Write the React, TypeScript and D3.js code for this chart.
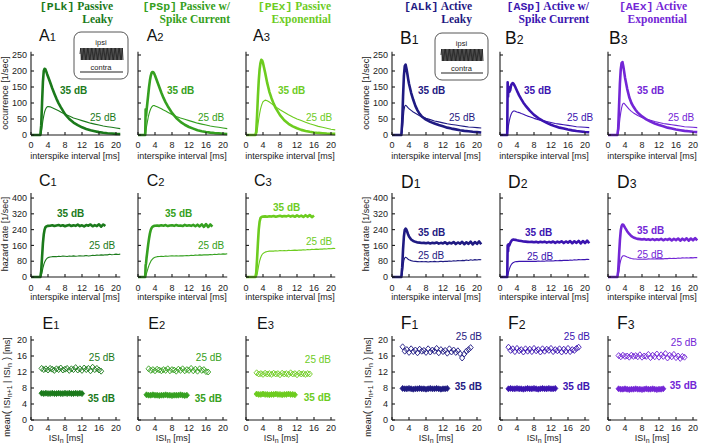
import React from 'react';
import * as d3 from 'd3';

const N = null;
const MODELS = ['PLk', 'PSp', 'PEx', 'ALk', 'ASp', 'AEx'];
const COLORS = ['#1b7a1b', '#35a020', '#6dcc1f', '#1f1a82', '#3b14b0', '#7326d6'];
const HEAD_TAGS = ['[PLk]', '[PSp]', '[PEx]', '[ALk]', '[ASp]', '[AEx]'];
const HEAD_L1 = [' Passive', ' Passive w/', ' Passive', ' Active', ' Active w/', ' Active'];
const HEAD_L2 = ['Leaky', 'Spike Current', 'Exponential', 'Leaky', 'Spike Current', 'Exponential'];
const LEVELS = ['35 dB', '25 dB'];
const X_TICKS = [0, 4, 8, 12, 16, 20];
const OCC_TICKS = [0, 50, 100, 150, 200, 250];
const HAZ_TICKS = [0, 80, 160, 240, 320, 400];
const SCAT_TICKS = [0, 4, 8, 12, 16, 20];

// occurrence (ISI histogram) grid, ms
const OCC_X = [0, 1.7, 1.8, 1.9, 2.0, 2.2, 2.4, 2.6, 2.8, 3.0, 3.2, 3.4, 3.6, 3.8, 4.0,
  4.5, 5, 5.5, 6, 6.5, 7, 8, 9, 10, 11, 12, 13, 14, 15, 16, 17, 18, 19, 20, 21];
const OCC35_PLK = [0, 0, 0, 0, 0, 0, 30, 100, 165, 200, 207, 205, 198, 190, 183,
  165, 146, 129, 113, 99, 87, 65, 50, 39, 31, 24, 19, 15, 12, 9, 7, 5.5, 4.5, 3.5, 3];
const OCC25_PLK = [0, 0, 0, 0, 0, 0, 5, 25, 45, 60, 72, 80, 85, 88, 89,
  88, 85, 82, 79, 76, 72, 65, 59, 53, 49, 45, 41, 37, 34, 31, 28, 26, 24, 22, 20];
const OCC35_PSP = [0, 0, 80, 60, 75, 100, 125, 150, 170, 185, 194, 197, 196, 192, 186,
  168, 150, 132, 116, 102, 90, 69, 53, 41, 32, 25, 20, 15, 12, 9.5, 7.5, 6, 5, 4, 3];
const OCC25_PSP = [0, 0, 5, 15, 25, 40, 55, 66, 75, 82, 87, 90, 92, 92, 91,
  88, 85, 82, 78, 75, 71, 64, 58, 53, 49, 45, 41, 37, 34, 31, 28, 26, 24, 22, 20];
const OCC35_PEX = [0, 0, 0, 0, 0, 0, 10, 60, 120, 170, 205, 225, 235, 233, 225,
  195, 162, 135, 115, 98, 84, 62, 46, 35, 27, 21, 16, 12.5, 10, 8, 6.5, 5.5, 4.5, 4, 3.5];
const OCC25_PEX = [0, 0, 0, 0, 0, 0, 0, 10, 30, 50, 66, 80, 90, 98, 104,
  109, 107, 103, 98, 93, 88, 79, 71, 63, 56, 50, 45, 40, 35, 31, 27, 24, 21, 18, 16];
const OCC35_ALK = [0, 0, 0, 0, 0, 0, 40, 120, 185, 215, 220, 208, 192, 175, 160,
  132, 110, 91, 77, 66, 58, 48, 41, 36, 31, 27, 23, 20, 17.5, 15, 13, 11.5, 10, 9, 8];
const OCC25_ALK = [0, 0, 0, 0, 0, 0, 10, 45, 75, 90, 93, 91, 88, 85, 82,
  77, 72, 68, 64, 60, 57, 52, 48, 44, 41, 38, 35, 33, 31, 29, 27, 25, 24, 23, 22];
const OCC35_ASP = [0, 0, 165, 120, 150, 135, 140, 155, 160, 162, 160, 155, 150, 144, 138,
  124, 112, 101, 92, 84, 76, 63, 53, 45, 38, 32, 27, 23, 20, 17, 14.5, 12.5, 11, 9.5, 8.5];
const OCC25_ASP = [0, 0, 10, 20, 30, 45, 56, 64, 70, 73, 75, 75, 74, 73, 72,
  70, 67, 65, 62, 59, 57, 52, 48, 45, 42, 39, 36, 34, 32, 30, 28, 26, 25, 24, 23];
const OCC35_AEX = [0, 0, 0, 0, 0, 0, 20, 90, 160, 205, 225, 228, 215, 198, 180,
  145, 118, 100, 88, 78, 70, 58, 49, 42, 36, 31, 27, 23, 20, 17, 15, 13, 11.5, 10, 9];
const OCC25_AEX = [0, 0, 0, 0, 0, 0, 5, 25, 50, 70, 85, 95, 99, 99, 96,
  88, 80, 74, 69, 65, 61, 55, 50, 46, 42, 39, 36, 34, 32, 30, 28, 26, 25, 24, 23];

// hazard rate grid, ms
const HAZ_X = [0, 1.7, 1.8, 1.9, 2.0, 2.2, 2.4, 2.6, 2.8, 3.0, 3.2, 3.4, 3.6, 3.8, 4.0,
  4.5, 5, 5.5, 6, 6.5, 7, 7.5, 8, 8.5, 9, 9.5, 10, 10.5, 11, 11.5, 12, 12.5, 13, 13.5, 14,
  14.5, 15, 15.5, 16, 16.5, 17, 17.5, 18, 18.5, 19, 19.5, 20, 20.5, 21];
const HAZ35_PLK = [0, 0, 0, 0, 0, 0, 30, 100, 170, 215, 240, 252, 256, 258, 259,
  260, 262, 258, 261, 263, 259, 262, 257, 261, 264, 258, 262, 259, 265, 258, 262, 256, 263, 260, 266,
  257, 263, 258, 267, 255, 266, 258, N, N, N, N, N, N, N];
const HAZ25_PLK = [0, 0, 0, 0, 0, 0, 5, 25, 45, 62, 75, 84, 90, 95, 98,
  101, 103, 104, 103, 105, 104, 106, 105, 104, 106, 105, 107, 105, 106, 108, 106, 107, 109, 106, 108,
  110, 109, 111, 110, 112, 111, 113, 112, 115, 113, 114, 116, 114, 116];
const HAZ35_PSP = [0, 0, 60, 70, 95, 130, 165, 195, 220, 238, 248, 254, 257, 259, 260,
  261, 259, 262, 260, 263, 258, 261, 262, 259, 263, 260, 261, 258, 264, 260, 262, 259, 264, 257, 265,
  256, 267, 254, 268, 253, 266, 255, N, N, N, N, N, N, N];
const HAZ25_PSP = [0, 0, 5, 10, 18, 32, 47, 60, 70, 79, 86, 91, 95, 98, 100,
  103, 104, 105, 104, 106, 105, 106, 107, 106, 107, 106, 108, 107, 108, 109, 108, 110, 109, 111, 110,
  112, 111, 112, 113, 112, 114, 113, 115, 114, 116, 115, 117, 116, 118];
const HAZ35_PEX = [0, 0, 0, 0, 0, 0, 20, 90, 170, 240, 280, 298, 303, 305, 306,
  307, 305, 308, 306, 309, 305, 308, 310, 306, 309, 307, 311, 306, 310, 305, 312, 306, 311, 304, 313,
  305, 314, 303, 312, N, N, N, N, N, N, N, N, N, N];
const HAZ25_PEX = [0, 0, 0, 0, 0, 0, 0, 10, 35, 60, 80, 95, 106, 114, 119,
  126, 129, 131, 132, 131, 133, 132, 134, 133, 134, 133, 135, 134, 135, 136, 135, 137, 136, 138, 137,
  139, 138, 140, 139, 141, 140, 142, 141, 143, 142, 144, 143, 145, 144];
const HAZ35_ALK = [0, 0, 0, 0, 0, 0, 50, 140, 205, 238, 245, 240, 228, 215, 205,
  190, 182, 178, 175, 174, 172, 173, 171, 174, 170, 173, 171, 175, 169, 173, 170, 176, 168, 174, 170,
  177, 167, 175, 169, 178, 166, 176, 168, 179, 165, 177, 168, 180, 166];
const HAZ25_ALK = [0, 0, 0, 0, 0, 0, 15, 55, 85, 97, 100, 98, 94, 90, 87,
  83, 80, 79, 78, 77, 78, 77, 78, 76, 78, 77, 79, 77, 78, 80, 78, 80, 79, 81, 80,
  82, 81, 83, 82, 84, 83, 86, 84, 87, 85, 88, 86, 89, 87];
const HAZ35_ASP = [0, 0, 160, 130, 165, 160, 172, 180, 186, 189, 190, 189, 188, 187, 186,
  184, 182, 180, 179, 178, 177, 178, 176, 178, 175, 178, 176, 179, 174, 178, 175, 180, 173, 179, 175,
  181, 172, 180, 174, 182, 171, 181, 173, 183, 170, 182, 172, 184, 171];
const HAZ25_ASP = [0, 0, 8, 15, 25, 40, 52, 61, 67, 71, 74, 76, 77, 78, 78,
  79, 80, 79, 80, 79, 80, 79, 80, 79, 81, 80, 81, 80, 82, 81, 82, 81, 83, 82, 84,
  83, 84, 85, 84, 86, 85, 87, 86, 88, 87, 89, 88, 90, 89];
const HAZ35_AEX = [0, 0, 0, 0, 0, 0, 30, 110, 185, 235, 258, 266, 265, 258, 250,
  232, 218, 207, 200, 196, 193, 192, 190, 192, 189, 191, 188, 192, 187, 191, 188, 193, 186, 192, 188,
  194, 185, 193, 187, 195, 184, 194, 186, 196, 184, 195, 186, 197, 185];
const HAZ25_AEX = [0, 0, 0, 0, 0, 0, 10, 35, 65, 85, 98, 105, 108, 108, 106,
  101, 97, 94, 92, 91, 90, 91, 90, 91, 90, 92, 91, 92, 91, 93, 92, 93, 92, 94, 93,
  95, 94, 95, 94, 96, 95, 97, 96, 97, 96, 98, 97, 99, 98];

// mean(ISI n+1 | ISI n), ms
const SCAT_X = [2.0, 2.5, 3.0, 3.5, 4.0, 4.5, 5.0, 5.5, 6.0, 6.5, 7.0, 7.5, 8.0, 8.5, 9.0, 9.5, 10.0,
  10.5, 11.0, 11.5, 12.0, 12.5, 13.0, 13.5, 14.0, 14.5, 15.0, 15.5, 16.0, 16.5, 17.0, 17.5, 18.0, 18.5];
const SC35_PLK = [N, 6.7, 6.6, 6.7, 6.6, 6.6, 6.7, 6.6, 6.6, 6.7, 6.6, 6.6, 6.7, 6.6, 6.7, 6.6, 6.6,
  6.7, 6.6, 6.7, 6.6, N, N, N, N, N, N, N, N, N, N, N, N, N];
const SC25_PLK = [N, 12.9, 12.6, 12.8, 12.5, 12.9, 12.7, 12.4, 12.8, 12.6, 13.0, 12.5, 12.7, 12.9, 12.4,
  12.8, 12.6, 13.1, 12.5, 12.8, 12.4, 13.0, 12.6, 12.9, 12.3, 13.2, 12.6, 12.9, 12.5, 12.2, N, N, N, N];
const SC35_PSP = [6.3, 6.2, 6.2, 6.3, 6.2, 6.2, 6.1, 6.2, 6.2, 6.3, 6.2, 6.2, 6.1, 6.2, 6.2, 6.2, 6.3,
  6.2, 6.1, 6.2, N, N, N, N, N, N, N, N, N, N, N, N, N, N];
const SC25_PSP = [N, 12.8, 12.4, 12.6, 12.3, 12.7, 12.5, 12.3, 12.6, 12.4, 12.8, 12.3, 12.6, 12.5, 12.2,
  12.7, 12.4, 12.8, 12.3, 12.6, 12.4, 12.9, 12.3, 12.7, 12.2, 12.8, 12.4, 12.6, 12.1, 12.0, N, N, N, N];
const SC35_PEX = [N, 6.5, 6.4, 6.4, 6.5, 6.4, 6.4, 6.3, 6.4, 6.4, 6.5, 6.4, 6.4, 6.3, 6.4, 6.4, 6.5,
  6.4, 6.4, 6.3, N, N, N, N, N, N, N, N, N, N, N, N, N, N];
const SC25_PEX = [N, 11.8, 11.5, 11.6, 11.4, 11.7, 11.5, 11.6, 11.4, 11.7, 11.5, 11.6, 11.3, 11.7, 11.5,
  11.6, 11.4, 11.8, 11.5, 11.6, 11.3, 11.7, 11.5, 11.6, 11.4, 11.6, 11.5, N, N, N, N, N, N, N];
const SC35_ALK = [N, 7.9, 7.8, 7.8, 7.9, 7.8, 7.7, 7.8, 7.8, 7.9, 7.8, 7.8, 7.7, 7.8, 7.9, 7.8, 7.8,
  7.9, 7.8, 7.7, 7.8, 7.8, 7.9, N, N, N, N, N, N, N, N, N, N, N];
const SC25_ALK = [N, 18.3, 17.2, 17.6, 16.9, 17.8, 17.1, 17.5, 16.8, 17.7, 17.2, 17.4, 16.9, 17.8, 17.0,
  17.5, 17.2, 17.9, 16.8, 17.6, 17.1, 17.4, 16.7, 17.8, 17.0, 17.5, 16.9, 17.3, 16.6, 15.5, 16.5, 17.2, 17.6, 18.1];
const SC35_ASP = [7.8, 7.9, 7.8, 7.8, 7.9, 7.8, 7.8, 7.7, 7.8, 7.9, 7.8, 7.8, 7.9, 7.8, 7.7, 7.8, 7.9,
  7.8, 7.8, 7.9, 7.8, 7.8, 7.9, N, N, N, N, N, N, N, N, N, N, N];
const SC25_ASP = [18.2, 17.4, 17.8, 17.1, 17.9, 17.3, 17.6, 17.0, 17.8, 17.2, 17.7, 17.1, 17.9, 17.3, 17.6,
  17.0, 17.8, 17.2, 17.7, 17.4, 17.9, 17.1, 17.6, 17.3, 17.8, 17.0, 17.7, 17.2, 17.9, 17.1, 17.6, 17.4, 17.9, 18.2];
const SC35_AEX = [N, 7.8, 7.7, 7.7, 7.8, 7.7, 7.6, 7.7, 7.7, 7.8, 7.7, 7.7, 7.6, 7.7, 7.8, 7.7, 7.7,
  7.8, 7.7, 7.6, 7.7, 7.7, 7.8, N, N, N, N, N, N, N, N, N, N, N];
const SC25_AEX = [N, 16.1, 15.8, 16.2, 15.9, 16.0, 15.7, 16.2, 15.9, 16.1, 15.8, 16.3, 15.7, 16.0, 15.9,
  16.4, 15.6, 16.2, 15.8, 16.5, 15.7, 16.3, 15.9, 16.6, 15.5, 16.2, 15.8, 16.4, 15.6, 16.0, 15.4, 15.9, 15.7, N];

const OCC35 = [OCC35_PLK, OCC35_PSP, OCC35_PEX, OCC35_ALK, OCC35_ASP, OCC35_AEX];
const OCC25 = [OCC25_PLK, OCC25_PSP, OCC25_PEX, OCC25_ALK, OCC25_ASP, OCC25_AEX];
const HAZ35 = [HAZ35_PLK, HAZ35_PSP, HAZ35_PEX, HAZ35_ALK, HAZ35_ASP, HAZ35_AEX];
const HAZ25 = [HAZ25_PLK, HAZ25_PSP, HAZ25_PEX, HAZ25_ALK, HAZ25_ASP, HAZ25_AEX];
const SC35 = [SC35_PLK, SC35_PSP, SC35_PEX, SC35_ALK, SC35_ASP, SC35_AEX];
const SC25 = [SC25_PLK, SC25_PSP, SC25_PEX, SC25_ALK, SC25_ASP, SC25_AEX];

// ---------- layout ----------
const SANS = "'Liberation Sans', Arial, Helvetica, sans-serif";
const SERIF = "'Liberation Serif', 'Times New Roman', serif";
const MONO = "'Liberation Mono', 'Courier New', monospace";
const AX = '#1a1a1a';
const COL_X0 = [31, 138, 246, 392, 500, 608];
const HEAD_X = [113, 230, 331, 472, 589, 687];
const ROWS = [
  { zero: 135, top: 51.8, ymax: 260, ticks: OCC_TICKS, letters: ['A', 'B'], letterY: [41, 44],
    tickLabY: 148, titleY: 158.5, yTitle: 'occurrence [1/sec]', yTitleC: 93 },
  { zero: 277, top: 193.1, ymax: 425, ticks: HAZ_TICKS, letters: ['C', 'D'], letterY: [186, 188],
    tickLabY: 290.5, titleY: 300, yTitle: 'hazard rate [1/sec]', yTitleC: 234 },
  { zero: 420, top: 336, ymax: 21, ticks: SCAT_TICKS, letters: ['E', 'F'], letterY: [329, 329],
    tickLabY: 431, titleY: 440.5, yTitle: '', yTitleC: 387 },
];
const LETTER_DX = [[8, 8.7, 7, 8, 5, 1], [8, 8.7, 8, 9, 8, 9], [11.5, 10.3, 11, 8.7, 8, 9]];
const OCC_LAB = { dx35: [29, 29, 32, 26, 24, 29], y35: [90, 90, 90, 90, 90, 90],
  dx25: [59, 60, 60, 57, 67, 60], y25: [117, 117, 117, 117, 117, 117] };
const HAZ_LAB = { dx35: [26, 27, 27, 26, 25, 29], y35: [213, 213, 207, 232.7, 232, 230.7],
  dx25: [58, 60, 60, 26, 27, 29], y25: [245, 245, 241, 255.7, 256, 254] };
const SC_LAB = { right: [84, 84, 85, 90, 90, 89], y25: [357, 357, 359, 336, 336, 342], y35: [398, 398, 397, 386.7, 386.7, 385] };
const INSETS = [{ x: 74, y: 32, w: 54, h: 47 }, { x: 435, y: 33, w: 53, h: 47 }];
const DIAMOND = 'M0,-3L2.6,0L0,3L-2.6,0Z';

function Panel({ ci, ri }: { ci: number; ri: number }) {
  const x0 = COL_X0[ci];
  const row = ROWS[ri];
  const color = COLORS[ci];
  const xs = d3.scaleLinear().domain([0, 21]).range([x0, x0 + 89.25]);
  const ys = d3.scaleLinear().domain([0, row.ymax]).range([row.zero, row.top]);
  const showY = ci === 0 || ci === 3;
  const grp = ci < 3 ? 0 : 1;
  const lineFor = (X: number[]) =>
    d3.line<number | null>().defined((d) => d != null).x((_, i) => xs(X[i])).y((d) => ys(d as number));

  let marks: React.ReactNode = null;
  let labels: React.ReactNode = null;
  if (ri === 0 || ri === 1) {
    const X = ri === 0 ? OCC_X : HAZ_X;
    const s35 = ri === 0 ? OCC35[ci] : HAZ35[ci];
    const s25 = ri === 0 ? OCC25[ci] : HAZ25[ci];
    const L = ri === 0 ? OCC_LAB : HAZ_LAB;
    const ln = lineFor(X);
    marks = (
      <g fill="none" stroke={color} strokeLinejoin="round">
        <path d={ln(s25) || ''} strokeWidth={1.1} />
        <path d={ln(s35) || ''} strokeWidth={2.6} />
      </g>
    );
    labels = (
      <g fill={color} fontSize={10}>
        <text x={x0 + L.dx35[ci]} y={L.y35[ci] + 3.5} fontWeight="bold">{LEVELS[0]}</text>
        <text x={x0 + L.dx25[ci]} y={L.y25[ci] + 3.5}>{LEVELS[1]}</text>
      </g>
    );
  } else {
    const s35 = SC35[ci];
    const s25 = SC25[ci];
    marks = (
      <g stroke={color}>
        {SCAT_X.map((x, i) =>
          s25[i] == null ? null : (
            <path key={'a' + i} d={DIAMOND} transform={`translate(${xs(x)},${ys(s25[i] as number)})`} fill="none" strokeWidth={0.9} />
          )
        )}
        {SCAT_X.map((x, i) =>
          s35[i] == null ? null : (
            <path key={'b' + i} d={DIAMOND} transform={`translate(${xs(x)},${ys(s35[i] as number)})`} fill={color} strokeWidth={0.8} />
          )
        )}
      </g>
    );
    labels = (
      <g fill={color} fontSize={10} textAnchor="end">
        <text x={x0 + SC_LAB.right[ci]} y={SC_LAB.y25[ci] + 3.5}>{LEVELS[1]}</text>
        <text x={x0 + SC_LAB.right[ci]} y={SC_LAB.y35[ci] + 3.5} fontWeight="bold">{LEVELS[0]}</text>
      </g>
    );
  }

  const letter = row.letters[grp];
  const sub = String((ci % 3) + 1);
  const big = grp === 0 ? 16 : 17.5;
  const yTitleX = ci === 0 ? 8 : 369;

  return (
    <g>
      <text x={x0 + LETTER_DX[ri][ci]} y={row.letterY[grp]} fontSize={big} fill="#111">
        {letter}
        <tspan fontSize={big * 0.7}>{sub}</tspan>
      </text>
      {marks}
      <g stroke={AX} strokeWidth={1.1} fill="none">
        <line x1={x0} x2={xs(21)} y1={row.zero} y2={row.zero} />
        <line x1={x0} x2={x0} y1={row.zero} y2={row.top} />
        {X_TICKS.map((t) => (
          <line key={'xt' + t} x1={xs(t)} x2={xs(t)} y1={row.zero} y2={row.zero - 3} />
        ))}
        {row.ticks.map((t) => (
          <line key={'yt' + t} x1={x0} x2={x0 + 3} y1={ys(t)} y2={ys(t)} />
        ))}
      </g>
      <g fontSize={9} fill="#222" textAnchor="middle">
        {X_TICKS.map((t) => (
          <text key={'xl' + t} x={xs(t)} y={row.tickLabY}>{t}</text>
        ))}
        {ri < 2 ? (
          <text x={x0 + 44} y={row.titleY}>interspike interval [ms]</text>
        ) : (
          <text x={x0 + (grp === 0 ? 35 : 44)} y={row.titleY}>
            ISI<tspan fontSize={7} dy={2}>n</tspan><tspan dy={-2}> [ms]</tspan>
          </text>
        )}
      </g>
      {showY && (
        <g fontSize={9} fill="#222">
          {row.ticks.map((t) => (
            <text key={'yl' + t} x={x0 - 4} y={ys(t) + 3.2} textAnchor="end">{t}</text>
          ))}
          {ri < 2 ? (
            <text transform={`translate(${yTitleX},${row.yTitleC}) rotate(-90)`} textAnchor="middle">{row.yTitle}</text>
          ) : (
            <text transform={`translate(${yTitleX + 1.5},${row.yTitleC}) rotate(-90)`} textAnchor="middle">
              mean<tspan fontSize={10.5} dy={0.5}>(</tspan>
              <tspan dy={-0.5}> ISI</tspan>
              <tspan fontSize={7} dy={2}>n+1</tspan>
              <tspan dy={-2}> | ISI</tspan>
              <tspan fontSize={7} dy={2}>n</tspan>
              <tspan fontSize={10.5} dy={-1.5}> )</tspan>
              <tspan dy={-0.5}> [ms]</tspan>
            </text>
          )}
        </g>
      )}
      {labels}
    </g>
  );
}

function Inset({ x, y, w, h }: { x: number; y: number; w: number; h: number }) {
  const left = x + 6;
  const right = x + w - 5;
  const teeth = 32;
  const step = (right - left) / teeth;
  let d = `M${left},${y + 22}`;
  for (let k = 0; k < teeth; k++) {
    d += `L${left + step * (k + 0.5)},${y + 16}L${left + step * (k + 1)},${y + 28}`;
  }
  const cx = x + w / 2;
  return (
    <g>
      <rect x={x} y={y} width={w} height={h} rx={7} fill="#fff" stroke="#444" strokeWidth={0.9} />
      <text x={cx} y={y + 13} fontSize={7.5} textAnchor="middle" fill="#222">ipsi</text>
      <path d={d} fill="none" stroke="#222" strokeWidth={0.9} />
      <text x={cx} y={y + 37.5} fontSize={7.5} textAnchor="middle" fill="#222">contra</text>
      <line x1={left} x2={right} y1={y + 40} y2={y + 40} stroke="#222" strokeWidth={1.2} />
    </g>
  );
}

export default function App() {
  return (
    <svg width={701} height={445} style={{ position: 'absolute', left: 0, top: 0, background: '#fff' }} fontFamily={SANS}>
      {MODELS.map((m, ci) => (
        <g key={m} fontWeight="bold" fontSize={11.5} fill={COLORS[ci]} textAnchor="end">
          <text x={HEAD_X[ci]} y={9.5}>
            <tspan fontFamily={MONO}>{HEAD_TAGS[ci]}</tspan>
            <tspan fontFamily={SERIF}>{HEAD_L1[ci]}</tspan>
          </text>
          <text x={HEAD_X[ci]} y={22.5} fontFamily={SERIF}>{HEAD_L2[ci]}</text>
        </g>
      ))}
      {MODELS.map((m, ci) => (
        <g key={'p' + m}>
          {[0, 1, 2].map((ri) => (
            <Panel key={ri} ci={ci} ri={ri} />
          ))}
        </g>
      ))}
      {INSETS.map((b, i) => (
        <Inset key={i} {...b} />
      ))}
    </svg>
  );
}
